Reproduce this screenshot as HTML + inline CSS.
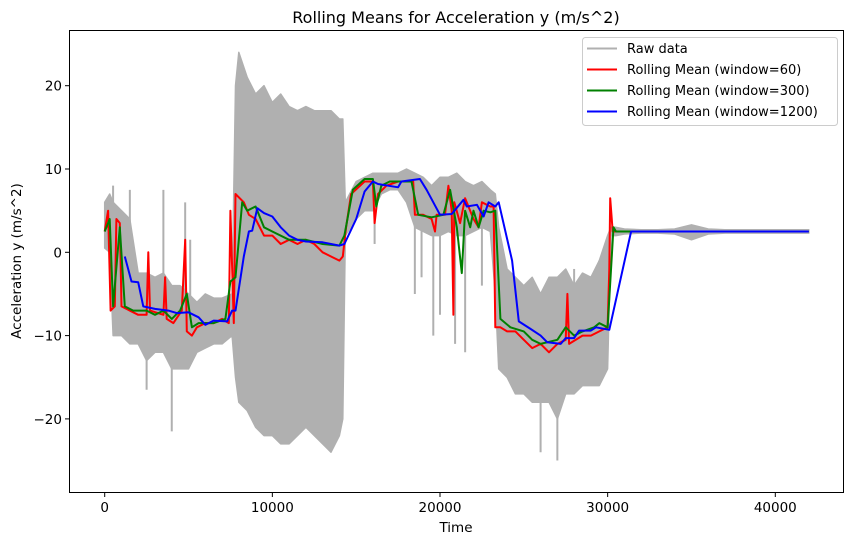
<!DOCTYPE html>
<html><head><meta charset="utf-8"><style>
body{margin:0;background:#fff;}
svg text{font-family:"DejaVu Sans","Liberation Sans",sans-serif;fill:#000;}
</style></head><body>
<svg id="chart" width="853" height="545" xmlns="http://www.w3.org/2000/svg">
<text x="456" y="23" font-size="16" text-anchor="middle">Rolling Means for Acceleration y (m/s^2)</text>
<g id="plot"></g>
<rect x="69.5" y="30.5" width="774" height="462" fill="none" stroke="#000" stroke-width="1"/>
<g id="xticks"></g>
<g id="yticks"></g>
<text x="456" y="532" font-size="13.5" text-anchor="middle">Time</text>
<text x="21" y="261" font-size="13.5" text-anchor="middle" transform="rotate(-90 21 261)">Acceleration y (m/s^2)</text>
<g>
<rect x="582.5" y="37.5" width="255" height="88" rx="3" fill="#fff" fill-opacity="0.8" stroke="#ccc"/>
<g><line x1="587" y1="48.5" x2="617" y2="48.5" stroke="#b0b0b0" stroke-width="2"/><text x="627" y="53" font-size="13">Raw data</text></g>
<g><line x1="587" y1="69.5" x2="617" y2="69.5" stroke="#ff0000" stroke-width="2"/><text x="627" y="74" font-size="13">Rolling Mean (window=60)</text></g>
<g><line x1="587" y1="90.5" x2="617" y2="90.5" stroke="#008000" stroke-width="2"/><text x="627" y="95" font-size="13">Rolling Mean (window=300)</text></g>
<g><line x1="587" y1="111.5" x2="617" y2="111.5" stroke="#0000ff" stroke-width="2"/><text x="627" y="116" font-size="13">Rolling Mean (window=1200)</text></g>
</g>
</svg>
<script>
const xTicks=[0,10000,20000,30000,40000];
const yTicks=[-20,-10,0,10,20];
const rawT=[0,300,500,1000,1500,2000,2500,3000,3500,4000,4500,5000,5500,6000,6500,7000,7600,7800,8000,8500,9000,9500,10000,10500,11000,11500,12000,12500,13000,13500,14000,14200,14350,15000,15500,16000,16500,17000,17500,18000,18500,19000,19500,20000,20500,21000,21500,22000,22500,23000,23300,23500,24000,24500,25000,25500,26000,26500,27000,27500,28000,28500,29000,29500,30000,30200,30500,31000,32000,33000,34000,35000,36000,37000,38000,39000,40000,41000,42000];
const rawMax=[6,7,6,5,4,-2.5,-2.5,-3,-2.5,-4,-4,-5,-6,-5,-5.5,-5.5,-5,20,24,21,19,20,18,19,17.5,17,17.5,17,17,17,16,16,6,8.5,9,9.5,9.5,9.5,9.5,10,9.5,9,8,9,9,9.5,8.5,8,8.5,7.5,7,3,-2,-3,-4,-3,-5,-3,-3,-2,-4,-2.5,-3,-1,2,3,3,2.8,2.7,2.7,2.8,3.3,2.8,2.7,2.7,2.7,2.7,2.7,2.7];
const rawMin=[0.5,0,-10,-10,-11,-11,-13,-12,-12,-14,-14,-14,-12,-11.5,-11,-11,-10,-15,-18,-19,-21,-22,-22,-23,-23,-22,-21,-22,-23,-24,-22,-20,2,4,5,5,7,7.5,7.5,6,3,2.5,2,2,2.5,2,2,2.5,3,2.5,-5,-14,-15,-17,-17,-18,-18,-18,-20,-17,-17,-16,-16,-16,-14,2,2,2.2,2.3,2.3,2.2,1.5,2.2,2.3,2.3,2.3,2.3,2.3,2.3];
const r60T=[0,200,350,600,700,900,1000,1500,2000,2500,2600,2700,3500,3600,3700,4100,4600,4800,4900,5200,5500,6000,6500,7000,7400,7500,7700,7800,8300,8600,9000,9500,10000,10500,11000,11500,12000,12500,13000,13500,14000,14200,14400,14700,15500,16000,16100,16300,16800,17500,18400,18500,19000,19500,19700,19800,20300,20500,20700,20800,20850,21200,21500,22000,22300,22500,23000,23200,23300,23600,24000,24500,25000,25500,26000,26500,27000,27500,27600,27700,28500,29000,29500,30000,30100,30150,30300,42000];
const r60V=[2.5,5,-7,-6.5,4,3.5,-6.5,-7,-7.5,-7.5,0,-7,-7.5,-3,-8,-8.5,-7,1.5,-9.5,-10,-9,-8.5,-8.5,-8,-8.5,5,-8.5,7,6,4.5,4,2,2,1,1.5,1,1.5,1,0,-0.5,-1,-0.5,3,7,8.5,8.5,3.5,7,8,8.5,8.5,4.5,4.5,4,2.5,4.5,4.5,8,5,-7.5,6,3.5,6.5,4,3,6,5.5,5.5,-9,-9,-9.5,-9.5,-10.5,-11.5,-11,-12,-11,-10.5,-5,-11,-10,-10,-9.5,-9,-2,6.5,2.5,2.5];
const r300T=[0,300,500,900,1200,1700,2500,3000,3500,4000,4500,4900,5200,5600,6500,7200,7500,7800,8200,8500,9000,9500,10000,11000,12000,13000,14000,14300,14800,15500,16000,16200,16500,17000,18300,18700,19500,20200,20600,21000,21300,21500,21800,22000,22300,22600,23000,23300,23600,24200,25000,25500,26000,27000,27500,28000,28500,29200,29500,30000,30350,30500,42000];
const r300V=[2.5,4,-6.5,3,-6.5,-7,-7,-7.5,-7,-8,-7,-5,-9,-8.5,-8.5,-8,-3.5,-3,6,5,5.5,3,2.5,1.5,1.5,1,0.8,2,7.5,8.8,8.8,5.5,8,8.5,8.5,4.5,4.2,4.5,7.5,3,-2.5,5,3,5,3,5,4.8,5,-8,-9,-9.5,-10.5,-11,-10.5,-9,-10,-9.5,-9,-8.5,-9,3,2.5,2.5];
const r1200T=[1200,1600,2000,2300,3000,3800,4300,5000,5600,6000,6500,7300,7600,7800,8300,8600,8800,9100,9500,10000,10500,11000,11500,12000,13000,14000,14300,15000,15500,16000,16300,17500,17700,18800,19200,20000,20700,21400,21600,22200,22600,22900,23300,23500,24300,24700,25400,26000,26400,27200,27500,28000,28300,29000,29300,30100,31400,42000];
const r1200V=[-0.5,-3.5,-3.6,-6.5,-6.8,-7,-7.3,-7.2,-7.8,-8.7,-8.2,-8.3,-7,-7,-0.5,2.5,2.6,5.3,4.7,4.3,3,2,1.5,1.3,1.2,0.8,1,4,7.3,8.5,8.2,7.8,8.5,8.8,7.5,4.5,4.6,6.3,5.5,5.7,4.3,6,5.5,6,-1,-8.3,-9.2,-10,-10.8,-11,-10.3,-10.3,-9.4,-9.4,-9,-9.3,2.5,2.5];
const spikeT=[500,1500,2500,3500,4000,4800,5100,16100,18500,18900,19600,20000,20900,21500,22500,26000,27000,28000,29500];
const spikeFrom=[-6,-6,-10,-6,-12,-6,-8,7,5,4,4,4,4,4,4,-15,-15,-6,-6];
const spikeV=[8,7.5,-16.5,7.5,-21.5,6,1.5,1,-5,-3,-10,-7.5,-11,-12,-4,-24,-25,-2,-1];

const NS='http://www.w3.org/2000/svg';
function sx(t){return 104.7+t*0.016765;}
function sy(v){return 252.3-v*8.33;}
const plot=document.getElementById('plot');
function mk(tag,attrs,parent){const e=document.createElementNS(NS,tag);for(const k in attrs)e.setAttribute(k,attrs[k]);parent.appendChild(e);return e;}

let env=rawT.map((t,i)=>sx(t).toFixed(1)+','+sy(rawMax[i]).toFixed(1));
for(let i=rawT.length-1;i>=0;i--)env.push(sx(rawT[i]).toFixed(1)+','+sy(rawMin[i]).toFixed(1));
const rawFill=mk('polygon',{points:env.join(' '),fill:'#b0b0b0',stroke:'#b0b0b0','stroke-width':'1.5','stroke-linejoin':'round'},plot);


spikeT.forEach((t,i)=>{
  const s=mk('line',{x1:sx(t),x2:sx(t),y1:sy(spikeFrom[i]),y2:sy(spikeV[i]),stroke:'#b0b0b0','stroke-width':'2'},plot);
  
  
});

function series(T,V,color,name){
  const el=mk('polyline',{points:T.map((t,i)=>sx(t).toFixed(1)+','+sy(V[i]).toFixed(1)).join(' '),fill:'none',stroke:color,'stroke-width':'2','stroke-linejoin':'round'},plot);
  
  
}
series(r60T,r60V,'#ff0000','rolling-mean-60-line');
series(r300T,r300V,'#008000','rolling-mean-300-line');
series(r1200T,r1200V,'#0000ff','rolling-mean-1200-line');

const xg=document.getElementById('xticks');
xTicks.forEach(t=>{
  const l=mk('line',{x1:sx(t),x2:sx(t),y1:492.5,y2:497,stroke:'#000'},xg);
  
  
  const tx=mk('text',{x:sx(t),y:512,'font-size':'13.5','text-anchor':'middle'},xg);
  tx.textContent=String(t);
  
  
});
const yg=document.getElementById('yticks');
yTicks.forEach(v=>{
  const l=mk('line',{x1:65,x2:69.5,y1:sy(v),y2:sy(v),stroke:'#000'},yg);
  
  
  const tx=mk('text',{x:62,y:sy(v)+5,'font-size':'13.5','text-anchor':'end'},yg);
  tx.textContent=(v<0?'\u2212'+(-v):String(v));
  
  
});
</script>
</body></html>
